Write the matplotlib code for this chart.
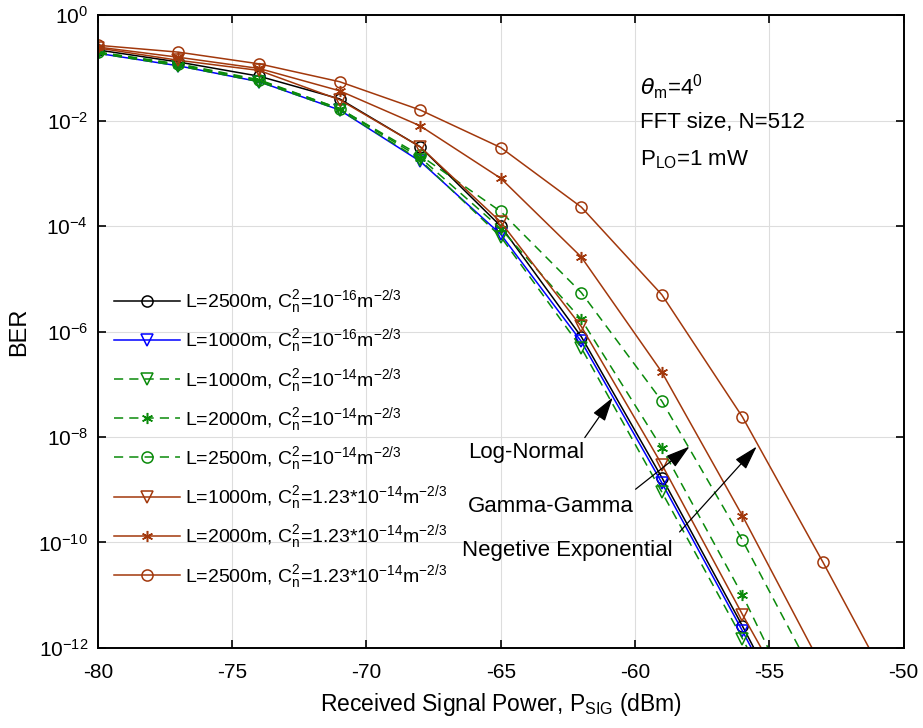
import matplotlib
matplotlib.use("Agg")
import matplotlib.pyplot as plt
from matplotlib.ticker import LogLocator, NullLocator

plt.rcParams["font.family"] = ["Liberation Sans", "DejaVu Sans"]
plt.rcParams["axes.unicode_minus"] = False

# received signal power (dBm)
p_sig = [-80, -77, -74, -71, -68, -65, -62, -59, -56, -53]
p_sig_ext = [-80, -77, -74, -71, -68, -65, -62, -59, -56, -53, -50]

# BER curves
ber_ln_2500 = [0.22, 0.13, 0.07, 0.026, 3.2e-3, 1.0e-4, 8e-7, 1.7e-9, 2.6e-12, 3e-15]
ber_ln_1000 = [0.19, 0.11, 0.055, 0.016, 1.7e-3, 7e-5, 6.5e-7, 1.35e-9, 2.1e-12, 2.5e-15]
ber_gg_1000 = [0.19, 0.11, 0.055, 0.016, 1.8e-3, 6.3e-5, 4.9e-7, 9e-10, 1.5e-12, 1.7e-15]
ber_gg_2000 = [0.20, 0.115, 0.058, 0.017, 2.0e-3, 9e-5, 1.7e-6, 6.2e-9, 1.0e-11, 7e-15]
ber_gg_2500 = [0.20, 0.12, 0.06, 0.017, 2.2e-3, 1.9e-4, 5.5e-6, 4.8e-8, 1.1e-10, 1.4e-13]
ber_ne_1000 = [0.24, 0.14, 0.09, 0.025, 3.2e-3, 1.2e-4, 1.25e-6, 3e-9, 4.3e-12, 8e-15]
ber_ne_2000 = [0.25, 0.16, 0.098, 0.037, 8e-3, 8.1e-4, 2.6e-5, 1.7e-7, 3.2e-10, 4e-13]
ber_ne_2500 = [0.27, 0.20, 0.12, 0.055, 0.016, 3.1e-3, 2.3e-4, 5e-6, 2.4e-8, 4.2e-11, 6e-14]

labels = [
    r"L=2500m, C$\mathregular{_n^2}$=10$\mathregular{^{-16}}$m$\mathregular{^{-2/3}}$",
    r"L=1000m, C$\mathregular{_n^2}$=10$\mathregular{^{-16}}$m$\mathregular{^{-2/3}}$",
    r"L=1000m, C$\mathregular{_n^2}$=10$\mathregular{^{-14}}$m$\mathregular{^{-2/3}}$",
    r"L=2000m, C$\mathregular{_n^2}$=10$\mathregular{^{-14}}$m$\mathregular{^{-2/3}}$",
    r"L=2500m, C$\mathregular{_n^2}$=10$\mathregular{^{-14}}$m$\mathregular{^{-2/3}}$",
    r"L=1000m, C$\mathregular{_n^2}$=1.23*10$\mathregular{^{-14}}$m$\mathregular{^{-2/3}}$",
    r"L=2000m, C$\mathregular{_n^2}$=1.23*10$\mathregular{^{-14}}$m$\mathregular{^{-2/3}}$",
    r"L=2500m, C$\mathregular{_n^2}$=1.23*10$\mathregular{^{-14}}$m$\mathregular{^{-2/3}}$",
]

BROWN = "#a2380c"
GREEN = "#0a8a0a"
BLUE = "#0000ff"
STAR = (6, 2, 0)
DASH = (0, (6, 4))

fig = plt.figure(figsize=(9.23, 7.28), dpi=100)
ax = fig.add_axes([0.106, 0.110, 0.873, 0.869])

common = dict(lw=1.1, markerfacecolor="none", markersize=8, markeredgewidth=1.1)
ax.plot(p_sig, ber_ln_2500, color="k", marker="o", label=labels[0], **common)
ax.plot(p_sig, ber_ln_1000, color=BLUE, marker="v", label=labels[1], **common)
ax.plot(p_sig, ber_gg_1000, color=GREEN, marker="v", ls=DASH, label=labels[2], **common)
ax.plot(p_sig, ber_gg_2000, color=GREEN, marker=STAR, ls=DASH, label=labels[3], **common)
ax.plot(p_sig, ber_gg_2500, color=GREEN, marker="o", ls=DASH, label=labels[4], **common)
ax.plot(p_sig, ber_ne_1000, color=BROWN, marker="v", label=labels[5], **common)
ax.plot(p_sig, ber_ne_2000, color=BROWN, marker=STAR, label=labels[6], **common)
ax.plot(p_sig_ext, ber_ne_2500, color=BROWN, marker="o", label=labels[7], **common)

ax.set_yscale("log")
ax.set_xlim(-80, -50)
ax.set_ylim(1e-12, 1)
ax.yaxis.set_major_locator(LogLocator(base=100))
ax.yaxis.set_minor_locator(NullLocator())
ax.set_xticks(range(-80, -49, 5))
ax.grid(True, color="#dddddd", lw=0.8)
ax.tick_params(direction="in", length=6, width=1.2, top=True, right=True,
               labelsize=15, pad=7)
ax.tick_params(axis="x", pad=11)
for s in ax.spines.values():
    s.set_linewidth(1.4)

ax.set_xlabel(r"Received Signal Power, P$_{\mathregular{SIG}}$ (dBm)", fontsize=16.5,
              labelpad=6)
ax.set_ylabel("BER", fontsize=17, labelpad=6)

ax.legend(loc="upper left", bbox_to_anchor=(0.02, 0.57), frameon=False,
          fontsize=14, handlelength=3.4, labelspacing=0.53, borderpad=0,
          borderaxespad=0, handletextpad=0.25)

ax.text(-59.83, 10 ** -1.36, r"$\theta_{\mathregular{m}}$=4$\mathregular{^0}$",
        fontsize=16, va="center")
ax.text(-59.83, 10 ** -2.04, "FFT size, N=512", fontsize=16, va="center")
ax.text(-59.83, 10 ** -2.74, r"P$_{\mathregular{LO}}$=1 mW", fontsize=16, va="center")

arrow = dict(arrowstyle="-|>,head_length=0.75,head_width=0.22", color="k", lw=0.9,
             mutation_scale=20, shrinkA=0, shrinkB=0)
ax.annotate("", xy=(-60.83, 10 ** -7.25), xytext=(-61.87, 10 ** -8.01), arrowprops=arrow)
ax.annotate("", xy=(-57.97, 10 ** -8.18), xytext=(-59.98, 10 ** -8.99), arrowprops=arrow)
ax.annotate("", xy=(-55.47, 10 ** -8.18), xytext=(-58.34, 10 ** -9.80), arrowprops=arrow)
ax.text(-66.23, 10 ** -8.29, "Log-Normal", fontsize=16, va="center")
ax.text(-66.23, 10 ** -9.31, "Gamma-Gamma", fontsize=16, va="center")
ax.text(-66.45, 10 ** -10.15, "Negetive Exponential", fontsize=16, va="center")

fig.savefig("out.png", dpi=100)
